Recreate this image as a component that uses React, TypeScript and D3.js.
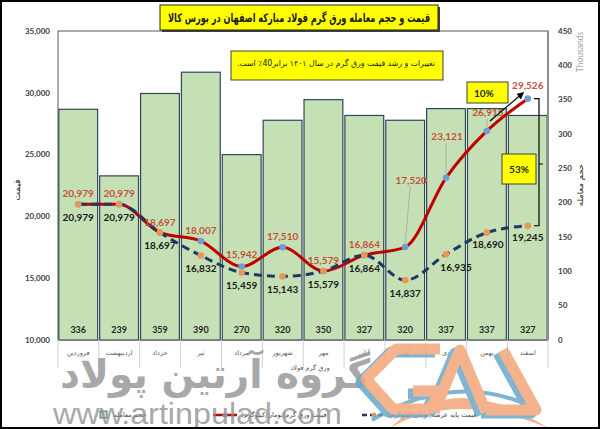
import React from "react";
import * as d3 from "d3";

const months = ["فروردین", "اردیبهشت", "خرداد", "تیر", "مرداد", "شهریور", "مهر", "آبان", "آذر", "دی", "بهمن", "اسفند"];
const volume = [336, 239, 359, 390, 270, 320, 350, 327, 320, 337, 337, 327];
const sheetPrice = [20979, 20979, 18697, 18007, 15942, 17510, 15579, 16864, 17520, 23121, 26915, 29526];
const basePrice = [20979, 20979, 18697, 16832, 15459, 15143, 15579, 16864, 14837, 16935, 18690, 19245];
const priceTicks = [10000, 15000, 20000, 25000, 30000, 35000];
const volumeTicks = [0, 50, 100, 150, 200, 250, 300, 350, 400, 450];

const titleText = "قیمت و حجم معامله ورق گرم فولاد مبارکه اصفهان در بورس کالا";
const noteText = "تغییرات و رشد قیمت ورق گرم در سال ۱۴۰۱ برابر40٪ است.";
const leftTitle = "قیمت";
const rightTitle = "حجم معامله";
const unitText = "Thousands";
const xTitle = "ورق گرم فولاد";
const legendVolume = "حجم معامله";
const legendSheet = "قیمت ورق گرم(تومان/کیلوگرم)";
const legendBase = "قیمت پایه عرضه(تومان/کیلوگرم)";
const pct10 = "10%";
const pct53 = "53%";
const watermarkFa = "گروه آرتین پولاد";
const watermarkUrl = "www.artinpulad.com";

const W = 600, H = 429;
const L = 58, R = 548, T = 31, B = 340;
const fa = "'DejaVu Sans', sans-serif";
const num = "Lato, 'Liberation Sans', sans-serif";

export default function App() {
  const x = d3.scaleBand<string>().domain(months).range([L, R]).paddingInner(0.05).paddingOuter(0.02);
  const yL = d3.scaleLinear().domain([10000, 35000]).range([B, T]);
  const yR = d3.scaleLinear().domain([0, 450]).range([B, T]);
  const cx = (i: number) => (x(months[i]) as number) + x.bandwidth() / 2;
  const fmt = d3.format(",");

  const line = d3.line<number>().x((_, i) => cx(i)).y((d) => yL(d)).curve(d3.curveMonotoneX);

  // label offsets (layout)
  const redDy = [-11, -11, -10, -11, -12, -11, -11, -11, -67, -41, -18, -13];
  const redDx = [0, 0, 0, 0, 0, 0, 0, 0, 6, 1, 1, 0];
  const blackDy = [13, 13, 13, 13, 13, 13, 13, 13, 13, 13, 12, 12];
  const blackDx = [0, 0, 0, 0, 0, 0, 0, 0, 0, 10, 1, 0];

  const step = x.step();
  const rtl = { direction: "rtl" as const, unicodeBidi: "embed" as const };

  const G = "M 440 349 L 396 349 L 366 379 L 393 409 L 430 409 L 441 391 L 413 391";
  const A = "M 434 412 L 460 350 L 486 412";
  const D = "M 503 350 L 536 410 L 486 410";

  return (
    <svg width={W} height={H} style={{ position: "absolute", left: 0, top: 0, background: "#fff" }}>
      <defs>
        <marker id="arr" viewBox="0 0 10 10" refX="8" refY="5" markerWidth="6" markerHeight="6" orient="auto">
          <path d="M0,0 L10,5 L0,10 z" fill="#000" />
        </marker>
      </defs>
      <rect x={0} y={0} width={W} height={H} fill="#fff" />

      {/* plot area */}
      <rect x={L} y={T} width={R - L} height={B - T} fill="#fff" stroke="#595959" strokeWidth={1} />

      {/* bars */}
      {volume.map((v, i) => (
        <rect key={"b" + i} x={x(months[i])} y={yR(v)} width={x.bandwidth()} height={B - yR(v)}
          fill="#c5e0b4" stroke="#2f4858" strokeWidth={1.2} />
      ))}
      {volume.map((v, i) => (
        <text key={"bl" + i} x={cx(i)} y={333} textAnchor="middle" fontFamily={num} fontWeight="bold" fontSize={9} fill="#262626">{v}</text>
      ))}

      <line x1={L} x2={R} y1={B} y2={B} stroke="#8c8c8c" strokeWidth={1} />
      <line x1={R} x2={R} y1={T} y2={B} stroke="#8c8c8c" strokeWidth={2} />

      {/* x axis separators and labels */}
      {months.map((m, i) => (
        <line key={"s" + i} x1={L + i * step} x2={L + i * step} y1={B} y2={368} stroke="#d0d0d0" strokeWidth={1} />
      ))}
      <line x1={R} x2={R} y1={B} y2={368} stroke="#d0d0d0" strokeWidth={1} />
      {months.map((m, i) => (
        <text key={"xl" + i} x={cx(i)} y={355} textAnchor="middle" fontFamily={fa} fontSize={6.5} fill="#595959" style={rtl}>{m}</text>
      ))}
      <text x={310} y={370} textAnchor="middle" fontFamily={fa} fontSize={6.5} fill="#595959" style={rtl}>{xTitle}</text>

      {/* left axis */}
      {priceTicks.map((t) => (
        <text key={"lt" + t} x={50} y={yL(t)} dy="0.35em" textAnchor="end" fontFamily={num} fontWeight="bold" fontSize={8} fill="#404040">{fmt(t)}</text>
      ))}
      <text transform={`translate(20,190) rotate(-90)`} textAnchor="middle" fontFamily={fa} fontSize={9} fill="#262626" style={rtl}>{leftTitle}</text>

      {/* right axis */}
      {volumeTicks.map((t) => (
        <text key={"rt" + t} x={558} y={yR(t)} dy="0.35em" textAnchor="start" fontFamily={num} fontWeight="bold" fontSize={8} fill="#404040">{t}</text>
      ))}
      <text transform={`translate(583,52) rotate(-90)`} textAnchor="middle" fontFamily={num} fontSize={8.5} fill="#a6a6a6">{unitText}</text>
      <text transform={`translate(583,185) rotate(-90)`} textAnchor="middle" fontFamily={fa} fontSize={8.5} fill="#262626" style={rtl}>{rightTitle}</text>

      {/* lines */}
      <path d={line(sheetPrice) || ""} fill="none" stroke="#c00000" strokeWidth={3} />
      {sheetPrice.map((v, i) => (
        <circle key={"rm" + i} cx={cx(i)} cy={yL(v)} r={3.3} fill="#6f9fd8" />
      ))}
      <path d={line(basePrice) || ""} fill="none" stroke="#1f3864" strokeWidth={3} strokeDasharray="8,5" />
      {basePrice.map((v, i) => (
        <circle key={"bm" + i} cx={cx(i)} cy={yL(v)} r={3.3} fill="#e8955a" />
      ))}

      {/* leader lines */}
      {[8, 9, 10].map((i) => (
        <line key={"ld" + i} x1={cx(i) + redDx[i] - 1} y1={yL(sheetPrice[i]) + redDy[i] + 6} x2={cx(i)} y2={yL(sheetPrice[i]) - 3}
          stroke="#a6a6a6" strokeWidth={0.8} />
      ))}

      {/* labels */}
      {sheetPrice.map((v, i) => (
        <text key={"rl" + i} x={cx(i) + redDx[i]} y={yL(v) + redDy[i]} dy="0.35em" textAnchor="middle" fontFamily={num} fontWeight="bold" fontSize={10} fill="#c5503a">{fmt(v)}</text>
      ))}
      {basePrice.map((v, i) => (
        <text key={"kl" + i} x={cx(i) + blackDx[i]} y={yL(v) + blackDy[i]} dy="0.35em" textAnchor="middle" fontFamily={num} fontWeight="bold" fontSize={10} fill="#1a1a1a">{fmt(v)}</text>
      ))}

      {/* arrow and bracket */}
      <line x1={490} y1={121} x2={523} y2={93} stroke="#000" strokeWidth={1.2} markerEnd="url(#arr)" />
      <path d={`M534,${yL(sheetPrice[11])} H539 V${yL(basePrice[11])} H534 M539,164 H543`} fill="none" stroke="#000" strokeWidth={1.2} />

      {/* annotation boxes */}
      <rect x={467} y={82} width={41} height={21} fill="#ffff00" stroke="#404040" strokeWidth={1} />
      <text x={474} y={93} dy="0.35em" fontFamily={num} fontWeight="bold" fontSize={10} fill="#262626">{pct10}</text>
      <rect x={502} y={154} width={34} height={30} fill="#ffff00" stroke="#404040" strokeWidth={1} />
      <text x={519} y={169} dy="0.35em" textAnchor="middle" fontFamily={num} fontWeight="bold" fontSize={10} fill="#262626">{pct53}</text>

      <rect x={162} y={7} width={278} height={25} fill="#404040" />
      <rect x={160} y={5} width={278} height={25} fill="#ffff00" stroke="#262626" strokeWidth={1} />
      <text x={299} y={18} dy="0.35em" textAnchor="middle" fontFamily={fa} fontWeight="bold" fontSize={12} fill="#1a1a1a"
        textLength={262} lengthAdjust="spacingAndGlyphs" style={rtl}>{titleText}</text>

      <rect x={231} y={51} width={212} height={29} fill="#ffff00" stroke="#404040" strokeWidth={1} />
      <text x={336} y={63} dy="0.35em" textAnchor="middle" fontFamily={fa} fontSize={8} fill="#1a1a1a"
        textLength={198} lengthAdjust="spacingAndGlyphs" style={rtl}>{noteText}</text>

      {/* legend */}
      <g fontFamily={fa} fontSize={6.5} fill="#404040">
        <rect x={100} y={411} width={7} height={7} fill="#c5e0b4" stroke="#2f4858" strokeWidth={0.8} />
        <text x={130} y={415} dy="0.35em" textAnchor="middle" style={rtl}>{legendVolume}</text>
        <line x1={213} x2={237} y1={415} y2={415} stroke="#c00000" strokeWidth={2.5} />
        <circle cx={225} cy={415} r={2.5} fill="#6f9fd8" />
        <text x={284} y={415} dy="0.35em" textAnchor="middle" style={rtl}>{legendSheet}</text>
        <line x1={362} x2={386} y1={415} y2={415} stroke="#1f3864" strokeWidth={2.5} strokeDasharray="5,3" />
        <circle cx={374} cy={415} r={2.5} fill="#e8955a" />
        <text x={432} y={415} dy="0.35em" textAnchor="middle" style={rtl}>{legendBase}</text>
      </g>

      {/* watermarks */}
      <g opacity={0.75}>
        <text x={215} y={388} textAnchor="middle" fontFamily={fa} fontWeight="bold" fontSize={40} fill="#8c8c8c"
          textLength={310} lengthAdjust="spacingAndGlyphs" style={rtl}>{watermarkFa}</text>
        <text x={53} y={424} fontFamily="'Liberation Sans', sans-serif" fontSize={30} fill="#8c8c8c"
          textLength={289} lengthAdjust="spacingAndGlyphs">{watermarkUrl}</text>
      </g>
      <g opacity={0.85} fill="none" strokeLinejoin="round" strokeWidth={11}>
        <path d="M 390 428 Q 455 368 548 428 Q 455 390 390 428 Z" fill="#f4a67a" stroke="none" />
        <path d="M 372 420 Q 455 370 535 408" stroke="#6aa8cc" strokeWidth={4} />
        <g transform="translate(-5,3)" stroke="#6aa8cc">
          <path d={G} />
          <path d={A} />
          <path d={D} />
        </g>
        <g stroke="#f4a67a">
          <path d={G} />
          <path d={A} />
          <path d={D} />
        </g>
      </g>

      <rect x={1} y={1} width={W - 2} height={H - 2} fill="none" stroke="#000" strokeWidth={2} />
    </svg>
  );
}
